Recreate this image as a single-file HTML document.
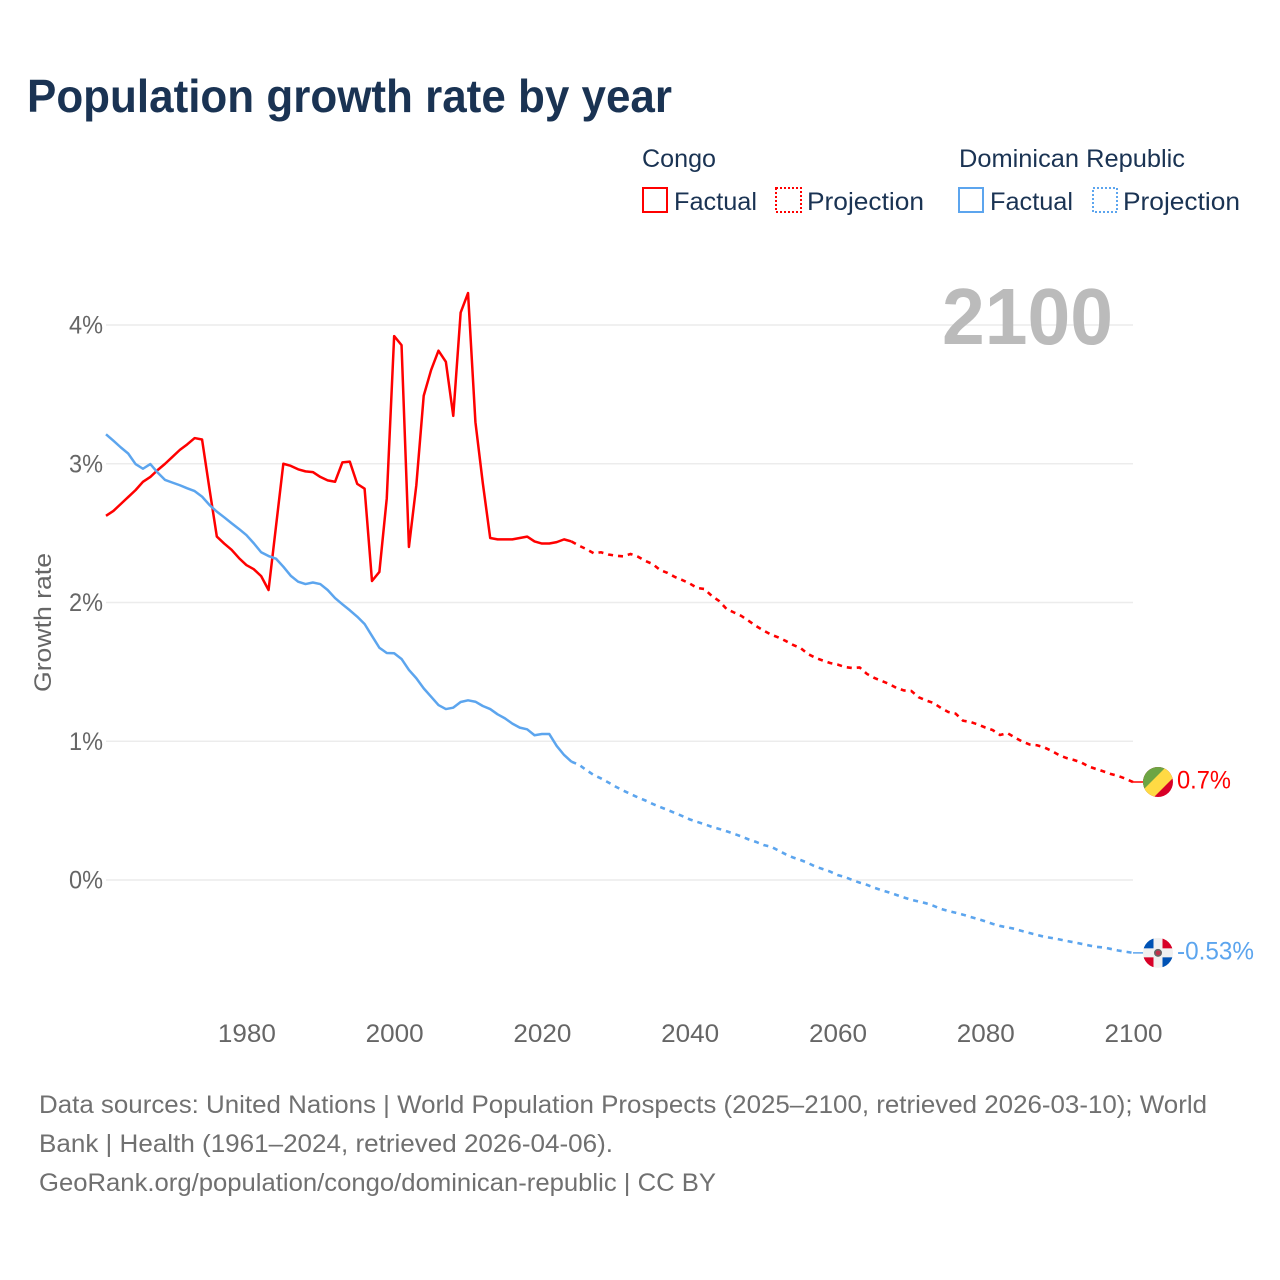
<!DOCTYPE html>
<html lang="en">
<head>
<meta charset="utf-8">
<title>Population growth rate by year</title>
<style>
  html, body { margin: 0; padding: 0; background: #ffffff; }
  svg { display: block; font-family: "Liberation Sans", sans-serif; }
</style>
</head>
<body>
<svg id="chart" xmlns="http://www.w3.org/2000/svg" width="1280" height="1280" viewBox="0 0 1280 1280">
  <rect x="0" y="0" width="1280" height="1280" fill="#ffffff"/>

  <text x="27" y="112" font-size="46" font-weight="700" fill="#1a3353" textLength="645" lengthAdjust="spacingAndGlyphs">Population growth rate by year</text>

  <g font-size="25" fill="#1a3353">
    <text x="642" y="167" textLength="74" lengthAdjust="spacingAndGlyphs">Congo</text>
    <text x="959" y="167" textLength="226" lengthAdjust="spacingAndGlyphs">Dominican Republic</text>
    <g>
      <rect x="643" y="188" width="24" height="24" fill="none" stroke="#ff0000" stroke-width="2"/>
      <text x="674" y="210" textLength="83" lengthAdjust="spacingAndGlyphs">Factual</text>
    </g>
    <g>
      <rect x="776" y="188" width="25" height="24" fill="none" stroke="#ff0000" stroke-width="2" stroke-dasharray="2 2"/>
      <text x="807" y="210" textLength="117" lengthAdjust="spacingAndGlyphs">Projection</text>
    </g>
    <g>
      <rect x="959" y="188" width="24" height="24" fill="none" stroke="#5ca5ee" stroke-width="2"/>
      <text x="990" y="210" textLength="83" lengthAdjust="spacingAndGlyphs">Factual</text>
    </g>
    <g>
      <rect x="1093" y="188" width="24" height="24" fill="none" stroke="#5ca5ee" stroke-width="2" stroke-dasharray="2 2"/>
      <text x="1123" y="210" textLength="117" lengthAdjust="spacingAndGlyphs">Projection</text>
    </g>
  </g>

  <g id="grid"></g>
  <g id="yTicks" font-size="25" fill="#666666"></g>
  <g id="xTicks" font-size="25" fill="#666666"></g>

  <text transform="translate(51 622.5) rotate(-90)" text-anchor="middle" font-size="24" fill="#666666" textLength="139" lengthAdjust="spacingAndGlyphs">Growth rate</text>

  <text x="942" y="344" font-size="80" font-weight="700" fill="#bbbbbb" textLength="171" lengthAdjust="spacingAndGlyphs">2100</text>

  <g id="series"></g>

  <defs>
    <clipPath id="flagClip"><circle cx="0" cy="0" r="15"/></clipPath>
  </defs>

  <g id="flagCongo">
    <g clip-path="url(#flagClip)">
      <rect x="-16" y="-16" width="32" height="32" fill="#d80027"/>
      <polygon points="-16,-16 16,-16 -16,16" fill="#6da544"/>
      <polygon points="7,-16 16,-16 16,-7 -7,16 -16,16 -16,7 0,-9" fill="#ffda44" transform="translate(1 1)"/>
    </g>
  </g>

  <g id="flagDominican">
    <g clip-path="url(#flagClip)">
      <rect x="-16" y="-16" width="32" height="32" fill="#f0f0f0"/>
      <rect x="-16" y="-16" width="11.5" height="11.5" fill="#0052b4"/>
      <rect x="4.5" y="4.5" width="11.5" height="11.5" fill="#0052b4"/>
      <rect x="4.5" y="-16" width="11.5" height="11.5" fill="#d80027"/>
      <rect x="-16" y="4.5" width="11.5" height="11.5" fill="#d80027"/>
      <circle cx="0" cy="0" r="4" fill="#666666"/>
      <circle cx="0" cy="0" r="2.4" fill="#c0304a"/>
    </g>
  </g>

  <g id="endLabels" font-size="25"></g>

  <g font-size="25" fill="#707070">
    <text x="39" y="1113" textLength="1168" lengthAdjust="spacingAndGlyphs">Data sources: United Nations | World Population Prospects (2025–2100, retrieved 2026-03-10); World</text>
    <text x="39" y="1152" textLength="574" lengthAdjust="spacingAndGlyphs">Bank | Health (1961–2024, retrieved 2026-04-06).</text>
    <text x="39" y="1191" textLength="677" lengthAdjust="spacingAndGlyphs">GeoRank.org/population/congo/dominican-republic | CC BY</text>
  </g>
</svg>

<script>
const firstYear = 1961;
const xTickYears = [1980, 2000, 2020, 2040, 2060, 2080, 2100];
const yTickValues = [0, 1, 2, 3, 4];
const yTickLabels = ["0%", "1%", "2%", "3%", "4%"];
const endValueLabels = ["0.7%", "-0.53%"];

// 1961-2024
const congoFactual = [
  2.625, 2.66, 2.71, 2.76, 2.81, 2.87, 2.905, 2.955, 3.0, 3.05,
  3.10, 3.14, 3.185, 3.175, 2.82, 2.475, 2.425, 2.38, 2.32, 2.27,
  2.24, 2.19, 2.09, 2.545, 3.0, 2.985, 2.96, 2.945, 2.94, 2.905,
  2.88, 2.87, 3.01, 3.015, 2.855, 2.82, 2.155, 2.22, 2.75, 3.92,
  3.855, 2.40, 2.845, 3.49, 3.675, 3.815, 3.735, 3.345, 4.09, 4.23,
  3.30, 2.86, 2.465, 2.455, 2.455, 2.455, 2.465, 2.475, 2.44, 2.425,
  2.425, 2.435, 2.455, 2.44
];
// 2025-2100
const congoProjection = [
  2.41, 2.385, 2.355, 2.362, 2.346, 2.337, 2.333, 2.35, 2.33, 2.30,
  2.277, 2.234, 2.213, 2.184, 2.162, 2.137, 2.105, 2.097, 2.047, 2.01,
  1.953, 1.928, 1.903, 1.867, 1.83, 1.798, 1.769, 1.748, 1.723, 1.694,
  1.672, 1.629, 1.602, 1.582, 1.564, 1.553, 1.535, 1.528, 1.532, 1.485,
  1.456, 1.434, 1.413, 1.384, 1.366, 1.362, 1.317, 1.294, 1.276, 1.24,
  1.211, 1.199, 1.148, 1.139, 1.121, 1.099, 1.081, 1.045, 1.059, 1.027,
  0.998, 0.977, 0.971, 0.955, 0.93, 0.90, 0.879, 0.865, 0.847, 0.818,
  0.80, 0.783, 0.764, 0.75, 0.73, 0.706
];
// 1961-2024
const dominicanFactual = [
  3.212, 3.166, 3.118, 3.074, 2.998, 2.964, 2.998, 2.936, 2.883, 2.864,
  2.845, 2.823, 2.803, 2.763, 2.703, 2.655, 2.614, 2.571, 2.53, 2.486,
  2.427, 2.362, 2.335, 2.316, 2.258, 2.193, 2.15, 2.133, 2.144, 2.133,
  2.09, 2.032, 1.987, 1.944, 1.898, 1.845, 1.759, 1.674, 1.636, 1.634,
  1.593, 1.514, 1.454, 1.381, 1.321, 1.261, 1.232, 1.242, 1.283, 1.295,
  1.285, 1.254, 1.232, 1.194, 1.165, 1.127, 1.098, 1.086, 1.043, 1.052,
  1.052, 0.966, 0.901, 0.853
];
// 2025-2100
const dominicanProjection = [
  0.831, 0.793, 0.757, 0.732, 0.703, 0.672, 0.645, 0.62, 0.595, 0.573,
  0.548, 0.526, 0.505, 0.483, 0.461, 0.437, 0.419, 0.402, 0.383, 0.368,
  0.351, 0.333, 0.314, 0.292, 0.274, 0.252, 0.24, 0.213, 0.185, 0.162,
  0.144, 0.123, 0.097, 0.079, 0.061, 0.036, 0.022, 0.0, -0.019, -0.035,
  -0.056, -0.074, -0.09, -0.108, -0.126, -0.143, -0.155, -0.168, -0.186, -0.208,
  -0.223, -0.236, -0.25, -0.266, -0.281, -0.298, -0.316, -0.331, -0.342, -0.352,
  -0.368, -0.382, -0.396, -0.409, -0.418, -0.428, -0.439, -0.449, -0.46, -0.471,
  -0.482, -0.486, -0.497, -0.508, -0.517, -0.525
];

const SVG_NS = "http://www.w3.org/2000/svg";
const RED = "#ff0000";
const BLUE = "#5ca5ee";

function xScale(year) { return 106 + (year - 1961) * (1133 - 106) / (2100 - 1961); }
function yScale(value) { return 880 - value * 138.75; }

function make(tag, attrs, parent) {
  const el = document.createElementNS(SVG_NS, tag);
  Object.keys(attrs).forEach(function (k) { el.setAttribute(k, attrs[k]); });
  parent.appendChild(el);
  return el;
}

function linePath(values, startYear, prefix) {
  let d = prefix || "";
  values.forEach(function (v, i) {
    const cmd = (i === 0 && !prefix) ? "M" : "L";
    d += cmd + xScale(startYear + i).toFixed(2) + " " + yScale(v).toFixed(2);
  });
  return d;
}

const gridGroup = document.getElementById("grid");
const yTickGroup = document.getElementById("yTicks");
const xTickGroup = document.getElementById("xTicks");
const seriesGroup = document.getElementById("series");
const endLabelGroup = document.getElementById("endLabels");

yTickValues.forEach(function (v, i) {
  const grid = make("line", { x1: xScale(1961), x2: xScale(2100), y1: yScale(v), y2: yScale(v), stroke: "#ececec", "stroke-width": 1.5 }, gridGroup);
  
  
  const label = make("text", { x: 103, y: yScale(v) + 8.5, "text-anchor": "end", textLength: 34, lengthAdjust: "spacingAndGlyphs" }, yTickGroup);
  label.textContent = yTickLabels[i];
  
  
});

xTickYears.forEach(function (year) {
  const label = make("text", { x: xScale(year) + 0.5, y: 1042, "text-anchor": "middle", textLength: 58, lengthAdjust: "spacingAndGlyphs" }, xTickGroup);
  label.textContent = String(year);
  
  
});

function drawSeries(factual, projection, color, key, flagId, labelText, labelWidth) {
  const lastFactualIndex = factual.length - 1;
  const projectionStartYear = firstYear + factual.length;
  const lastYear = projectionStartYear + projection.length - 1;
  const lastValue = projection[projection.length - 1];

  const factualLine = make("path", { d: linePath(factual, firstYear), fill: "none", stroke: color, "stroke-width": 2.5, "stroke-linejoin": "round" }, seriesGroup);
  
  

  const start = "M" + xScale(firstYear + lastFactualIndex).toFixed(2) + " " + yScale(factual[lastFactualIndex]).toFixed(2);
  const projectionLine = make("path", { d: linePath(projection, projectionStartYear, start), fill: "none", stroke: color, "stroke-width": 2.6, "stroke-dasharray": "5 5" }, seriesGroup);
  
  

  const endX = xScale(lastYear);
  const endY = yScale(lastValue);
  const connector = make("line", { x1: endX, x2: endX + 25, y1: endY, y2: endY, stroke: color, "stroke-width": 1.5 }, seriesGroup);
  
  

  document.getElementById(flagId).setAttribute("transform", "translate(" + (endX + 25) + " " + endY + ")");

  const label = make("text", { x: endX + 44, y: endY + 6.5, fill: color, textLength: labelWidth, lengthAdjust: "spacingAndGlyphs" }, endLabelGroup);
  label.textContent = labelText;
  
  
}

drawSeries(congoFactual, congoProjection, RED, "congo", "flagCongo", endValueLabels[0], 54);
drawSeries(dominicanFactual, dominicanProjection, BLUE, "dominican-republic", "flagDominican", endValueLabels[1], 77);
</script>
</body>
</html>
